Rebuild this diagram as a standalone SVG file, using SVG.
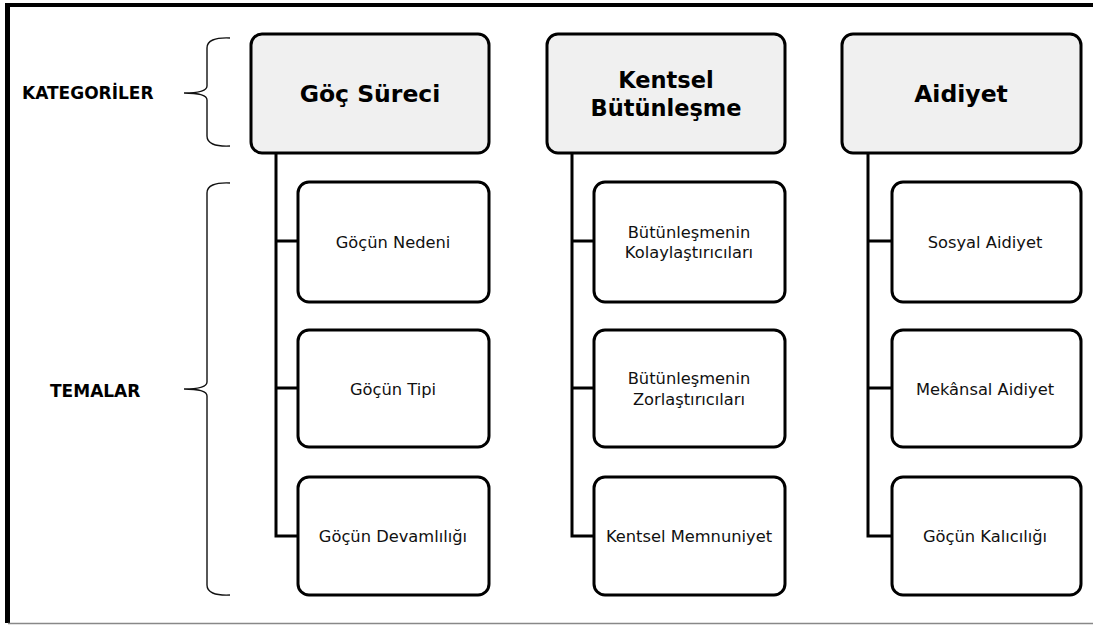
<svg xmlns="http://www.w3.org/2000/svg" width="1093" height="625" viewBox="0 0 1093 625">
<style>
.cat{fill:#f0f0f0;stroke:#000;stroke-width:3}
.theme{fill:#fff;stroke:#000;stroke-width:3}
.ct{font-family:"DejaVu Sans","Liberation Sans",sans-serif;font-weight:bold;fill:#000;text-anchor:middle}
.tt{font-family:"DejaVu Sans","Liberation Sans",sans-serif;font-size:16.3px;fill:#111;text-anchor:middle}
.lbl{font-family:"DejaVu Sans","Liberation Sans",sans-serif;font-weight:bold;font-size:17px;fill:#000}
.conn{fill:none;stroke:#000;stroke-width:3}
.brace{fill:none;stroke:#111;stroke-width:1.4}
</style>
<rect width="1093" height="625" fill="#fff"/>
<g id="frame">
<line x1="5" y1="5" x2="1093" y2="5" stroke="#000" stroke-width="4"/>
<line x1="7.5" y1="3" x2="7.5" y2="623" stroke="#000" stroke-width="5"/>
<line x1="8" y1="623.5" x2="1093" y2="623.5" stroke="#888" stroke-width="1.5"/>
</g>
<g id="labels">
<text class="lbl" x="22" y="99">KATEGORİLER</text>
<text class="lbl" x="50" y="397">TEMALAR</text>
<path class="brace" d="M230,38 Q207,37 207,48 L207,86 Q207,93 184,93 Q207,93 207,100 L207,136 Q207,147 230,146"/>
<path class="brace" d="M230,183 Q207,182 207,193 L207,382 Q207,389 184,389 Q207,389 207,396 L207,585 Q207,596 230,595"/>
</g>
<g id="connectors">
<path class="conn" d="M276,153 V536 H298 M276,241 H298 M276,388 H298"/>
<path class="conn" d="M572,153 V536 H594 M572,241 H594 M572,388 H594"/>
<path class="conn" d="M868,153 V536 H892 M868,241 H892 M868,388 H892"/>
</g>
<g id="cat-goc">
<rect class="cat" x="251" y="34" width="238" height="119" rx="11"/>
<text class="ct" x="370" y="102" font-size="23.5">Göç Süreci</text>
</g>
<g id="cat-kentsel">
<rect class="cat" x="547" y="34" width="238" height="119" rx="11"/>
<text class="ct" x="666" y="88" font-size="22.5">Kentsel</text>
<text class="ct" x="666" y="116" font-size="22.5">Bütünleşme</text>
</g>
<g id="cat-aidiyet">
<rect class="cat" x="842" y="34" width="239" height="119" rx="11"/>
<text class="ct" x="961" y="102" font-size="23.5">Aidiyet</text>
</g>
<g id="t-goc-nedeni">
<rect class="theme" x="298" y="182" width="191" height="120" rx="11"/>
<text class="tt" x="393" y="248">Göçün Nedeni</text>
</g>
<g id="t-goc-tipi">
<rect class="theme" x="298" y="330" width="191" height="117" rx="11"/>
<text class="tt" x="393" y="395">Göçün Tipi</text>
</g>
<g id="t-goc-devamliligi">
<rect class="theme" x="298" y="477" width="191" height="118" rx="11"/>
<text class="tt" x="393" y="542">Göçün Devamlılığı</text>
</g>
<g id="t-kolay">
<rect class="theme" x="594" y="182" width="191" height="120" rx="11"/>
<text class="tt" x="689" y="238">Bütünleşmenin</text>
<text class="tt" x="689" y="258">Kolaylaştırıcıları</text>
</g>
<g id="t-zor">
<rect class="theme" x="594" y="330" width="191" height="117" rx="11"/>
<text class="tt" x="689" y="384">Bütünleşmenin</text>
<text class="tt" x="689" y="405">Zorlaştırıcıları</text>
</g>
<g id="t-memnuniyet">
<rect class="theme" x="594" y="477" width="191" height="118" rx="11"/>
<text class="tt" x="689" y="542">Kentsel Memnuniyet</text>
</g>
<g id="t-sosyal">
<rect class="theme" x="892" y="182" width="189" height="120" rx="11"/>
<text class="tt" x="985" y="248">Sosyal Aidiyet</text>
</g>
<g id="t-mekansal">
<rect class="theme" x="892" y="330" width="189" height="117" rx="11"/>
<text class="tt" x="985" y="395">Mekânsal Aidiyet</text>
</g>
<g id="t-kalicilik">
<rect class="theme" x="892" y="477" width="189" height="118" rx="11"/>
<text class="tt" x="985" y="542">Göçün Kalıcılığı</text>
</g>
</svg>
